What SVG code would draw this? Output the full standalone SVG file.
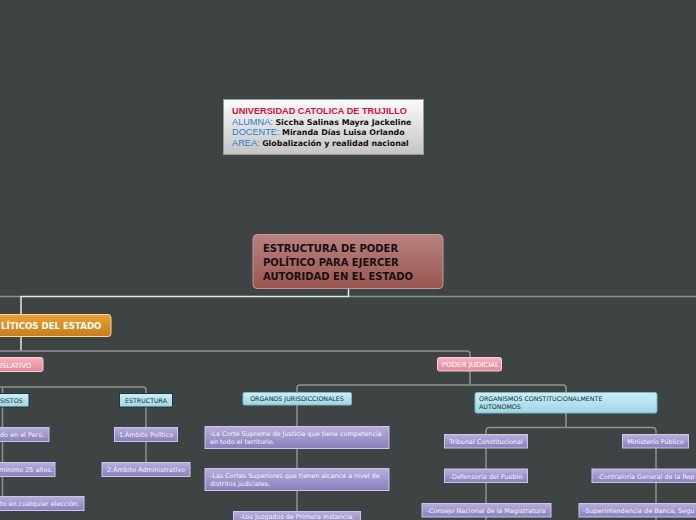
<svg xmlns="http://www.w3.org/2000/svg" width="696" height="520" viewBox="0 0 696 520">
<defs>
<linearGradient id="gHead" x1="0" y1="0" x2="0" y2="1"><stop offset="0" stop-color="#fbfbfb"/><stop offset="1" stop-color="#c4c4c4"/></linearGradient>
<linearGradient id="gRoot" x1="0" y1="0" x2="0" y2="1"><stop offset="0" stop-color="#b98280"/><stop offset="1" stop-color="#9a5550"/></linearGradient>
<linearGradient id="gOrange" x1="0" y1="0" x2="0" y2="1"><stop offset="0" stop-color="#eba232"/><stop offset="1" stop-color="#c47e1c"/></linearGradient>
<linearGradient id="gPink" x1="0" y1="0" x2="0" y2="1"><stop offset="0" stop-color="#f7b3c1"/><stop offset="1" stop-color="#e3879b"/></linearGradient>
<linearGradient id="gCyan" x1="0" y1="0" x2="0" y2="1"><stop offset="0" stop-color="#c8f0f8"/><stop offset="1" stop-color="#9ed6e6"/></linearGradient>
<linearGradient id="gPurple" x1="0" y1="0" x2="0" y2="1"><stop offset="0" stop-color="#b8aedd"/><stop offset="1" stop-color="#8a80bb"/></linearGradient>
</defs>
<style>
.bg{fill:#3e4444}
.ln{fill:none;stroke:#8c9292;stroke-width:1.5}
.lnw{fill:none;stroke:#e6e6e6;stroke-width:1.5}
.head{fill:url(#gHead);stroke:#9a9a9a;stroke-width:1}
.root{fill:url(#gRoot);stroke:#c09a98;stroke-width:1}
.orange{fill:url(#gOrange);stroke:#f3d7a8;stroke-width:1}
.pink{fill:url(#gPink);stroke:#f9ccd6;stroke-width:1}
.cyan{fill:url(#gCyan);stroke:#263436;stroke-width:1}
.cyan2{fill:url(#gCyan);stroke:#7fb4c2;stroke-width:1}
.purple{fill:url(#gPurple);stroke:#cdc6ea;stroke-width:1}
.tp{font-family:"DejaVu Sans",Verdana,sans-serif;font-size:6.45px;fill:#f6f4ff}
.tc{font-family:"DejaVu Sans",Verdana,sans-serif;font-size:6.3px;fill:#1e2a2c}
.tpk{font-family:"DejaVu Sans",Verdana,sans-serif;font-size:7px;fill:#ffffff}
.tr{font-family:"DejaVu Sans",Verdana,sans-serif;font-size:10px;font-weight:bold;fill:#161010}
.to{font-family:"DejaVu Sans",Verdana,sans-serif;font-size:8.6px;font-weight:bold;fill:#ffffff}
.hl{font-family:"Liberation Sans",Arial,sans-serif;font-size:9.2px}
.hb{font-family:"DejaVu Sans",Verdana,sans-serif;font-size:7.9px;font-weight:bold;fill:#111}
</style>
<rect class="bg" x="0" y="0" width="696" height="520"/>

<g id="connectors">
  <path class="ln" d="M0 296.5 H21 M348.5 296.5 H696"/>
  <path class="lnw" d="M348.5 289 V296.5 H21 V315"/>
  <path class="lnw" d="M21 337 V351"/>
  <path class="ln" d="M0 351 H467 Q470 351 470 354 V357.5"/>
  <path class="ln" d="M0 387 H143 Q146 387 146 390 V393"/>
  <path class="ln" d="M2.5 387 V393"/>
  <path class="ln" d="M2.5 407 V496"/>
  <path class="ln" d="M146 407 V462"/>
  <path class="ln" d="M470 371 V385 M297 392 V388 Q297 385 300 385 H563 Q566 385 566 388 V392"/>
  <path class="ln" d="M297 405 V511"/>
  <path class="ln" d="M566 413 V427 M486 434 V431 Q486 427.5 490 427.5 H652 Q656 427.5 656 431 V434"/>
  <path class="ln" d="M486 448 V520"/>
  <path class="ln" d="M656 448 V520"/>
</g>

<g id="header">
  <rect class="head" x="223.5" y="99.5" width="200" height="55"/>
  <text class="hl" x="232" y="114" font-weight="bold" fill="#d0123c">UNIVERSIDAD CATOLICA DE TRUJILLO</text>
  <text x="232" y="124.5"><tspan class="hl" fill="#1b80c8">ALUMNA: </tspan><tspan class="hb">Siccha Salinas Mayra Jackeline</tspan></text>
  <text x="232" y="135"><tspan class="hl" fill="#1b80c8">DOCENTE: </tspan><tspan class="hb">Miranda Días Luisa Orlando</tspan></text>
  <text x="232" y="145.5"><tspan class="hl" fill="#1b80c8">AREA: </tspan><tspan class="hb">Globalización y realidad nacional</tspan></text>
</g>

<g id="root">
  <rect class="root" x="253" y="234.5" width="190" height="54" rx="4"/>
  <text class="tr" x="263" y="251.5">ESTRUCTURA DE PODER</text>
  <text class="tr" x="263" y="265.5">POLÍTICO PARA EJERCER</text>
  <text class="tr" x="263" y="279.5">AUTORIDAD EN EL ESTADO</text>
</g>

<g id="poderes">
  <rect class="orange" x="-20" y="314.5" width="131" height="22" rx="3"/>
  <text class="to" x="1" y="328.5">LÍTICOS DEL ESTADO</text>
</g>

<g id="legislativo">
  <rect class="pink" x="-20" y="357.5" width="63" height="14" rx="2"/>
  <text class="tpk" x="0" y="367.5">ISLATIVO</text>
</g>

<g id="judicial">
  <rect class="pink" x="437.5" y="357.5" width="64" height="13.5" rx="2"/>
  <text class="tpk" x="442" y="367">PODER JUDICIAL</text>
</g>

<g id="requisitos">
  <rect class="cyan" x="-20" y="393.5" width="49" height="13.5"/>
  <text class="tc" x="0" y="402.5">SISTOS</text>
</g>
<g id="req1">
  <rect class="purple" x="-20" y="427.5" width="69" height="14"/>
  <text class="tp" x="0" y="437">do en el Perú.</text>
</g>
<g id="req2">
  <rect class="purple" x="-20" y="462.5" width="75" height="14"/>
  <text class="tp" x="-1" y="472">mínimo 25 años.</text>
</g>
<g id="req3">
  <rect class="purple" x="-20" y="496.5" width="104" height="14"/>
  <text class="tp" x="0" y="506">to en cualquier elección.</text>
</g>

<g id="estructura">
  <rect class="cyan" x="119.5" y="393.5" width="53" height="13.5"/>
  <text class="tc" x="146" y="402.5" text-anchor="middle">ESTRUCTURA</text>
</g>
<g id="ambito1">
  <rect class="purple" x="114.5" y="427.5" width="63" height="14"/>
  <text class="tp" x="146" y="437" text-anchor="middle">1.Ámbito Político</text>
</g>
<g id="ambito2">
  <rect class="purple" x="102" y="462.5" width="88" height="14"/>
  <text class="tp" x="146" y="472" text-anchor="middle">2.Ámbito Administrativo</text>
</g>

<g id="organos">
  <rect class="cyan2" x="243" y="392.5" width="108.5" height="12.5" rx="1.5"/>
  <text class="tc" x="297" y="401" text-anchor="middle">ORGANOS JURISDICCIONALES</text>
</g>
<g id="corte-suprema">
  <rect class="purple" x="205" y="426.5" width="184" height="22"/>
  <text class="tp" x="210" y="435.5">-La Corte Suprema de Justicia que tiene competencia</text>
  <text class="tp" x="210" y="443.5">en todo el territorio.</text>
</g>
<g id="cortes-superiores">
  <rect class="purple" x="205" y="468.5" width="184" height="22"/>
  <text class="tp" x="210" y="477.5">-Las Cortes Superiores que tienen alcance a nivel de</text>
  <text class="tp" x="210" y="485.5">distritos judiciales.</text>
</g>
<g id="juzgados">
  <rect class="purple" x="233.5" y="511.5" width="127" height="14"/>
  <text class="tp" x="297" y="518.5" text-anchor="middle">-Los Juzgados de Primera Instancia.</text>
</g>

<g id="autonomos">
  <rect class="cyan2" x="475" y="392.5" width="182" height="20.5" rx="2"/>
  <text class="tc" x="479" y="400.5">ORGANISMOS CONSTITUCIONALMENTE</text>
  <text class="tc" x="479" y="408.5">AUTONOMOS</text>
</g>
<g id="tribunal">
  <rect class="purple" x="444.5" y="434.5" width="83" height="13.5"/>
  <text class="tp" x="486" y="444" text-anchor="middle">Tribunal Constitucional</text>
</g>
<g id="defensoria">
  <rect class="purple" x="444.5" y="469" width="83" height="13.5"/>
  <text class="tp" x="486" y="478.5" text-anchor="middle">-Defensoría del Pueblo</text>
</g>
<g id="consejo">
  <rect class="purple" x="422" y="503.5" width="129" height="13.5"/>
  <text class="tp" x="486" y="513" text-anchor="middle">-Consejo Nacional de la Magistratura</text>
</g>
<g id="ministerio">
  <rect class="purple" x="622.5" y="434.5" width="66" height="13.5"/>
  <text class="tp" x="655.5" y="444" text-anchor="middle">Ministerio Público</text>
</g>
<g id="contraloria">
  <rect class="purple" x="592" y="469" width="120" height="13.5"/>
  <text class="tp" x="597" y="478.5">-Contraloría General de la Rep</text>
</g>
<g id="superintendencia">
  <rect class="purple" x="579" y="503.5" width="130" height="13.5"/>
  <text class="tp" x="583" y="513">-Superintendencia de Banca, Segu</text>
</g>
</svg>
